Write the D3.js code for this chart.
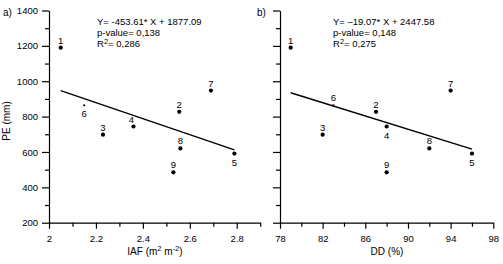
<!DOCTYPE html>
<html>
<head>
<meta charset="utf-8">
<script src="https://cdn.jsdelivr.net/npm/d3@7"></script>
<style>
  body { margin: 0; background: #fff; }
  text { font-family: "Liberation Sans", Arial, sans-serif; fill: #000; }
</style>
</head>
<body>
<div id="chart"></div>
<script>
// data
const sites = ['1', '2', '3', '4', '5', '6', '7', '8', '9'];
const iaf = [2.05, 2.555, 2.23, 2.36, 2.79, 2.15, 2.69, 2.56, 2.53];
const dd = [79, 87, 82, 88, 96, 83, 94, 92, 88];
const pe = [1190, 827, 698, 744, 591, 864, 947, 620, 485];

// regression line end points (from the drawn line)
const fitIaf = [[2.05, 947], [2.79, 612]];
const fitDd = [[79, 935], [96, 616]];

const peTicks = d3.range(200, 1401, 200);
const peMinor = d3.range(300, 1400, 200);
const iafTicks = [2, 2.2, 2.4, 2.6, 2.8];
const iafMinor = [2.1, 2.3, 2.5, 2.7, 2.9];
const ddTicks = [78, 82, 86, 90, 94, 98];
const ddMinor = [80, 84, 88, 92, 96];

const width = 503, height = 264;

const svg = d3.select('#chart')
    .append('svg')
    .attr('width', width)
    .attr('height', height);

const yScale = d3.scaleLinear()
    .domain([200, 1400])
    .range([222.7, 10.5]);

function drawPanel(opts) {
    const xScale = d3.scaleLinear()
        .domain(opts.domain)
        .range(opts.range);

    const g = svg.append('g');

    // y axis
    g.append('g')
        .attr('transform', 'translate(' + opts.range[0] + ',0)')
        .call(d3.axisLeft(yScale).tickValues(peTicks).tickSize(7).tickSizeOuter(0).tickPadding(4)
            .tickFormat(opts.yLabels ? d3.format('d') : ''));
    g.append('g')
        .attr('transform', 'translate(' + opts.range[0] + ',0)')
        .call(d3.axisLeft(yScale).tickValues(peMinor).tickSize(4).tickSizeOuter(0).tickFormat(''))
        .select('.domain').remove();

    // x axis
    g.append('g')
        .attr('transform', 'translate(0,' + yScale(200) + ')')
        .call(d3.axisBottom(xScale).tickValues(opts.ticks).tickSize(6).tickSizeOuter(0).tickPadding(7)
            .tickFormat(d => String(d)));
    g.append('g')
        .attr('transform', 'translate(0,' + yScale(200) + ')')
        .call(d3.axisBottom(xScale).tickValues(opts.minor).tickSize(4).tickSizeOuter(0).tickFormat(''))
        .select('.domain').remove();

    g.selectAll('.domain, .tick line')
        .attr('stroke', '#000')
        .attr('stroke-width', 1.2);
    g.selectAll('.tick text')
        .style('font-size', '9.5px')
        .style('font-family', '"Liberation Sans", Arial, sans-serif');

    // regression line
    g.append('path')
        .datum(opts.fit)
        .attr('d', d3.line().x(d => xScale(d[0])).y(d => yScale(d[1])))
        .attr('fill', 'none')
        .attr('stroke', '#000')
        .attr('stroke-width', 1.5);

    // points
    g.selectAll('.pt')
        .data(sites)
        .enter()
        .append('circle')
        .attr('cx', (d, i) => xScale(opts.xs[i]))
        .attr('cy', (d, i) => yScale(pe[i]))
        .attr('r', d => d === '6' ? 1.1 : 2.1)
        .attr('fill', '#000');

    g.selectAll('.lbl')
        .data(sites)
        .enter()
        .append('text')
        .attr('x', (d, i) => xScale(opts.xs[i]) + (opts.shift[d] || 0))
        .attr('y', (d, i) => yScale(pe[i]) + (opts.below.includes(d) ? 12 : -4))
        .attr('text-anchor', 'middle')
        .style('font-size', '9.5px')
        .text(d => d);

    // equation block, one text per line
    g.append('text')
        .attr('x', opts.eqX)
        .attr('y', 25)
        .style('font-size', '9.5px')
        .text(opts.eq);
    g.append('text')
        .attr('x', opts.eqX)
        .attr('y', 35.5)
        .style('font-size', '9.5px')
        .text(opts.pval);
    const r2 = g.append('text')
        .attr('x', opts.eqX)
        .attr('y', 47)
        .style('font-size', '9.5px');
    r2.append('tspan').text('R');
    r2.append('tspan').attr('dy', -3).style('font-size', '7.5px').text('2');
    r2.append('tspan').attr('dy', 3).text(opts.r2);

    // panel letter
    g.append('text')
        .attr('x', opts.letterX)
        .attr('y', 16)
        .style('font-size', '10px')
        .text(opts.letter);

    // x title
    const xt = g.append('text')
        .attr('x', opts.titleX)
        .attr('y', 255)
        .attr('text-anchor', 'middle')
        .style('font-size', '10px');
    opts.title.forEach(part => {
        const t = xt.append('tspan').text(part.t);
        if (part.sup) t.attr('dy', -4).style('font-size', '7.5px');
        if (part.down) t.attr('dy', 4);
    });

    return g;
}

drawPanel({
    domain: [2, 2.9], range: [49, 260.2],
    ticks: iafTicks, minor: iafMinor, xs: iaf, fit: fitIaf,
    yLabels: true,
    below: ['6', '5'], shift: { '4': -2 },
    eqX: 97, eq: 'Y= -453.61* X + 1877.09', pval: 'p-value= 0,138', r2: '= 0,286',
    letter: 'a)', letterX: 3,
    titleX: 155,
    title: [{ t: 'IAF (m' }, { t: '2', sup: true }, { t: ' m', down: true }, { t: '-2', sup: true }, { t: ')', down: true }]
});

drawPanel({
    domain: [78, 98], range: [280, 493.3],
    ticks: ddTicks, minor: ddMinor, xs: dd, fit: fitDd,
    yLabels: false,
    below: ['4', '5'], shift: {},
    eqX: 333, eq: 'Y= \u201319.07* X + 2447.58', pval: 'p-value=  0,148', r2: '= 0,275',
    letter: 'b)', letterX: 257,
    titleX: 387,
    title: [{ t: 'DD (%)' }]
});

// y title
svg.append('text')
    .attr('transform', 'translate(10,121) rotate(-90)')
    .attr('text-anchor', 'middle')
    .style('font-size', '10px')
    .text('PE (mm)');
</script>
</body>
</html>
